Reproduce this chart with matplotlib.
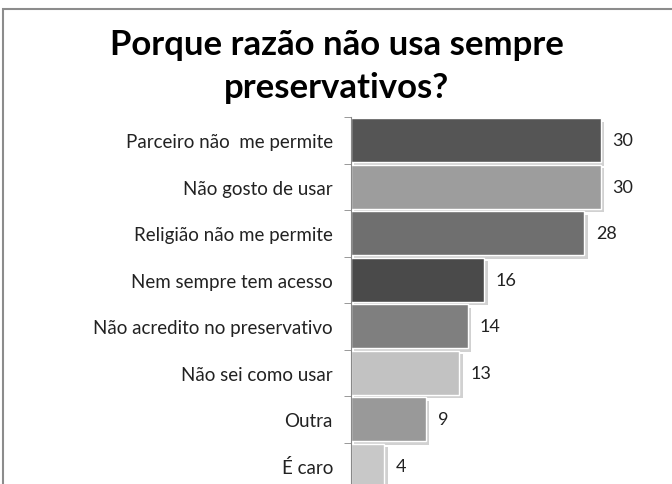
import matplotlib.pyplot as plt
import matplotlib.patheffects as pe
from matplotlib.patches import Rectangle

categories = ['Parceiro não  me permite', 'Não gosto de usar', 'Religião não me permite',
              'Nem sempre tem acesso', 'Não acredito no preservativo', 'Não sei como usar',
              'Outra', 'É caro']
values = [30, 30, 28, 16, 14, 13, 9, 4]
colors = ['#555555', '#9d9d9d', '#6f6f6f', '#4a4a4a', '#7f7f7f', '#c2c2c2', '#999999', '#c8c8c8']

plt.rcParams['font.family'] = ['Lato', 'DejaVu Sans']

fig = plt.figure(figsize=(6.72, 4.85), dpi=100)
# frame of the chart area (only top and left visible)
fig.patches.append(Rectangle((3 / 672, -0.1), 1.2, 1 - 10 / 485 + 0.1, transform=fig.transFigure,
                             fill=False, edgecolor='#8c8c8c', linewidth=1.5))

ax = fig.add_axes([351 / 672, 1 - 490 / 485, 300 / 672, 372 / 485])
y = list(range(len(categories)))
bars = ax.barh(y, values, height=0.94, color=colors, edgecolor='white', linewidth=1)
for b in bars:
    b.set_path_effects([pe.SimplePatchShadow(offset=(2.5, -2.5), shadow_rgbFace='#000000', alpha=0.18),
                        pe.Normal()])

for yi, v in zip(y, values):
    ax.text(v + 1.4, yi, str(v), va='center', ha='left', fontsize=13, color='#222222')

ax.set_ylim(len(categories) - 0.5, -0.5)
ax.set_xlim(0, 36)
ax.set_yticks(y)
ax.set_yticklabels(categories, fontsize=13.5, color='#222222')
ax.set_yticks([i - 0.5 for i in range(len(categories) + 1)], minor=True)
ax.tick_params(axis='y', which='major', length=0, pad=13)
ax.tick_params(axis='y', which='minor', length=5, color='#888888', direction='out')
ax.set_xticks([])
for s in ['top', 'right', 'bottom']:
    ax.spines[s].set_visible(False)
ax.spines['left'].set_color('#888888')

fig.text(337 / 672, 1 - 45 / 485, 'Porque razão não usa sempre', ha='center', va='center',
         fontsize=25, fontweight='bold')
fig.text(337 / 672, 1 - 88 / 485, 'preservativos?', ha='center', va='center',
         fontsize=25, fontweight='bold')

fig.savefig('out.png', dpi=100)
